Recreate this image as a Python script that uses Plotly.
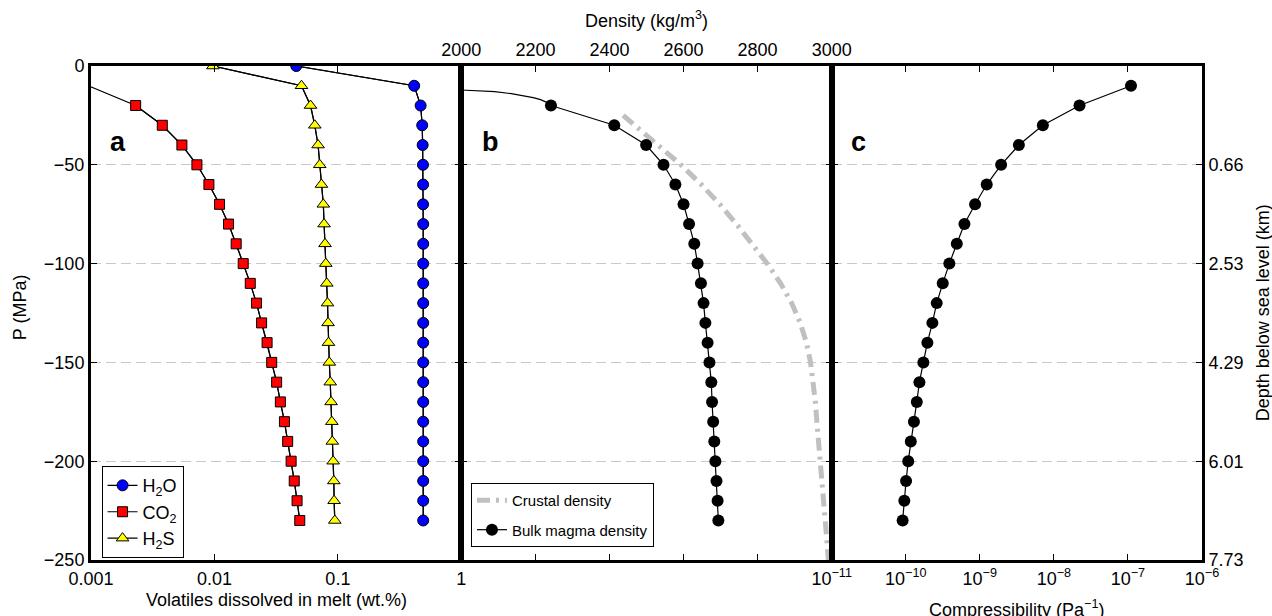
import plotly.graph_objects as go

# ---------------- data ----------------
P = [0, -10, -20, -30, -40, -50, -60, -70, -80, -90, -100, -110, -120,
     -130, -140, -150, -160, -170, -180, -190, -200, -210, -220, -230]

h2o = [0.046, 0.415, 0.468, 0.482, 0.486, 0.489, 0.490, 0.490, 0.491, 0.491,
       0.491, 0.491, 0.491, 0.491, 0.491, 0.491, 0.491, 0.491, 0.491, 0.491,
       0.491, 0.491, 0.491, 0.491]
co2 = [None, 0.00095, 0.0023, 0.00378, 0.00545, 0.00721, 0.00902, 0.0110,
       0.0130, 0.0150, 0.0171, 0.0195, 0.0219, 0.0241, 0.0267, 0.0291,
       0.0319, 0.0342, 0.0369, 0.0392, 0.0418, 0.0443, 0.0467, 0.0491]
h2s = [0.00972, 0.0507, 0.0600, 0.0650, 0.0691, 0.0713, 0.0736, 0.0762,
       0.0773, 0.0787, 0.0798, 0.0813, 0.0824, 0.0833, 0.0839, 0.0852,
       0.0867, 0.0881, 0.0893, 0.0901, 0.0915, 0.0927, 0.0932, 0.0944]

# bulk magma density (markers every 10 MPa)
P_bulk = [-20, -30, -40, -50, -60, -70, -80, -90, -100, -110, -120, -130,
          -140, -150, -160, -170, -180, -190, -200, -210, -220, -230]
rho_bulk = [2242, 2413, 2499, 2546, 2578, 2600, 2615, 2629, 2638, 2647, 2654,
            2659, 2665, 2670, 2675, 2677, 2680, 2683, 2686, 2689, 2692, 2694]
# finer shallow part of the bulk density curve (line only)
P_bulk_top = [-11, -12, -13, -14, -15, -16, -17, -18, -19, -20]
rho_bulk_top = [1880, 2005, 2090, 2135, 2168, 2194, 2214, 2228, 2237, 2242]

# crustal density
P_crust = [-25, -30, -40, -50, -60, -70, -80, -90, -100, -110, -120, -130,
           -140, -150, -160, -170, -180, -190, -200, -210, -220, -230, -240, -250]
rho_crust = [2437, 2469, 2534, 2593, 2648, 2698, 2743, 2785, 2826, 2862, 2892,
             2915, 2932, 2943, 2951, 2956, 2960, 2965, 2969, 2973, 2978, 2983,
             2987, 2991]

# compressibility
P_comp = P[1:]
compress = [1.1e-7, 2.22e-8, 7.1e-9, 3.37e-9, 1.94e-9, 1.24e-9, 8.64e-10,
            6.2e-10, 4.89e-10, 3.88e-10, 3.16e-10, 2.62e-10, 2.29e-10,
            1.96e-10, 1.73e-10, 1.53e-10, 1.41e-10, 1.29e-10, 1.17e-10,
            1.08e-10, 1.01e-10, 9.57e-11, 9.08e-11]

# axes ticks
vol_ticks = [0.001, 0.01, 0.1, 1]
vol_ticktext = ["0.001", "0.01", "0.1", "1"]
dens_ticks = [2000, 2200, 2400, 2600, 2800, 3000]
comp_ticks = [1e-11, 1e-10, 1e-9, 1e-8, 1e-7, 1e-6]
comp_ticktext = ["10<sup>\u221211</sup>", "10<sup>\u221210</sup>", "10<sup>\u22129</sup>",
                 "10<sup>\u22128</sup>", "10<sup>\u22127</sup>", "10<sup>\u22126</sup>"]
p_ticks = [0, -50, -100, -150, -200, -250]
depth_text = ["", "0.66", "2.53", "4.29", "6.01", "7.73"]

VOL_MIN = 0.001

FONT = "Liberation Sans, Arial, Helvetica, sans-serif"
fig = go.Figure()

# ---------------- panel a ----------------
def visible(xs, ys):
    px, py = [], []
    for x, y in zip(xs, ys):
        if x is not None and x >= VOL_MIN:
            px.append(x); py.append(y)
    return px, py

series = [("H<sub>2</sub>O", h2o, "circle", "#0000ff", 11),
          ("CO<sub>2</sub>", co2, "square", "#ff0000", 10),
          ("H<sub>2</sub>S", h2s, "triangle-up", "#ffff00", 11)]
for name, vals, sym, col, sz in series:
    fig.add_trace(go.Scatter(x=vals, y=P, mode="lines", xaxis="x", yaxis="y",
                             line=dict(color="black", width=1.2),
                             showlegend=False, hoverinfo="skip"))
    vx, vy = visible(vals, P)
    fig.add_trace(go.Scatter(x=vx, y=vy, mode="lines+markers", name=name,
                             xaxis="x", yaxis="y", legend="legend",
                             line=dict(color="black", width=1.2),
                             marker=dict(symbol=sym, size=sz, color=col,
                                         line=dict(color="black", width=1))))

# ---------------- panel b ----------------
fig.add_trace(go.Scatter(x=rho_crust, y=P_crust, mode="lines", name="Crustal density",
                         xaxis="x2", yaxis="y2", legend="legend2", legendgroup="crust",
                         line=dict(color="#c0c0c0", width=5, dash="13px,6px,3px,6px")))
fig.add_trace(go.Scatter(x=rho_bulk_top, y=P_bulk_top, mode="lines",
                         xaxis="x2", yaxis="y2", showlegend=False,
                         line=dict(color="black", width=1.2), hoverinfo="skip"))
fig.add_trace(go.Scatter(x=rho_bulk, y=P_bulk, mode="lines+markers",
                         name="Bulk magma density", xaxis="x2", yaxis="y2",
                         legend="legend2", legendgroup="bulk",
                         line=dict(color="black", width=1.2),
                         marker=dict(symbol="circle", size=12, color="black")))

# ---------------- panel c ----------------
fig.add_trace(go.Scatter(x=compress, y=P_comp, mode="lines+markers",
                         xaxis="x3", yaxis="y3", showlegend=False,
                         line=dict(color="black", width=1.2),
                         marker=dict(symbol="circle", size=12, color="black")))

# ---------------- layout ----------------
common_x = dict(showline=True, linewidth=3, linecolor="black", mirror="ticks",
                ticks="inside", ticklen=6, tickwidth=1.3, tickcolor="black",
                showgrid=False, zeroline=False,
                tickfont=dict(family=FONT, size=18, color="black"))
common_y = dict(showline=True, linewidth=3, linecolor="black", mirror="ticks",
                ticks="inside", ticklen=6, tickwidth=1.3, tickcolor="black",
                range=[-250, 0], tickvals=p_ticks, zeroline=False,
                showgrid=True, gridcolor="#c8c8c8", gridwidth=1.2,
                griddash="10px,5px",
                tickfont=dict(family=FONT, size=18, color="black"))

d1, d2 = 1 / 3, 2 / 3
fig.update_layout(
    width=1272, height=616, autosize=False,
    margin=dict(l=91, r=70, t=66, b=56),
    plot_bgcolor="white", paper_bgcolor="white",
    font=dict(family=FONT, size=18, color="black"),
    xaxis=dict(common_x, domain=[0, d1], type="log", range=[-3, 0],
               tickvals=vol_ticks, ticktext=vol_ticktext, anchor="y"),
    xaxis2=dict(common_x, domain=[d1, d2], range=[2000, 3000], side="top",
                tickvals=dens_ticks, anchor="y2"),
    xaxis3=dict(common_x, domain=[d2, 1], type="log", range=[-11, -6],
                tickvals=comp_ticks, ticktext=comp_ticktext, anchor="y3"),
    yaxis=dict(common_y, anchor="x"),
    yaxis2=dict(common_y, anchor="x2", showticklabels=False),
    yaxis3=dict(common_y, anchor="x3", side="right", ticktext=depth_text),
    legend=dict(x=0.0095, y=0.19, xanchor="left", yanchor="top",
                bordercolor="black", borderwidth=1, bgcolor="white",
                tracegroupgap=0,
                font=dict(family=FONT, size=18, color="black")),
    legend2=dict(x=0.342, y=0.156, xanchor="left", yanchor="top",
                 bordercolor="black", borderwidth=1, bgcolor="white",
                 traceorder="grouped", tracegroupgap=7,
                 font=dict(family=FONT, size=15, color="black")),
)

ann = [
    dict(text="<b>a</b>", x=0.0239, y=0.846, size=27),
    dict(text="<b>b</b>", x=0.3594, y=0.846, size=27),
    dict(text="<b>c</b>", x=0.6907, y=0.846, size=27),
    dict(text="Density (kg/m<sup>3</sup>)", x=0.5, y=1.094, size=18),
    dict(text="Volatiles dissolved in melt (wt.%)", x=1 / 6, y=-0.081, size=18),
    dict(text="Compressibility (Pa<sup>\u22121</sup>)", x=5 / 6, y=-0.099, size=18),
]
for a in ann:
    fig.add_annotation(text=a["text"], x=a["x"], y=a["y"], xref="paper", yref="paper",
                       xanchor="center", yanchor="middle", showarrow=False,
                       font=dict(family=FONT, size=a["size"], color="black"))
fig.add_annotation(text="P (MPa)", x=-0.0644, y=0.5127, xref="paper", yref="paper",
                   textangle=-90, xanchor="center", yanchor="middle", showarrow=False,
                   font=dict(family=FONT, size=18, color="black"))
fig.add_annotation(text="Depth below sea level (km)", x=1.0552, y=0.5, xref="paper",
                   yref="paper", textangle=-90, xanchor="center", yanchor="middle",
                   showarrow=False, font=dict(family=FONT, size=18, color="black"))

fig.write_html("out.html", config={"displayModeBar": False},
               post_script="document.body.style.margin='0px';document.body.style.overflow='hidden';")
